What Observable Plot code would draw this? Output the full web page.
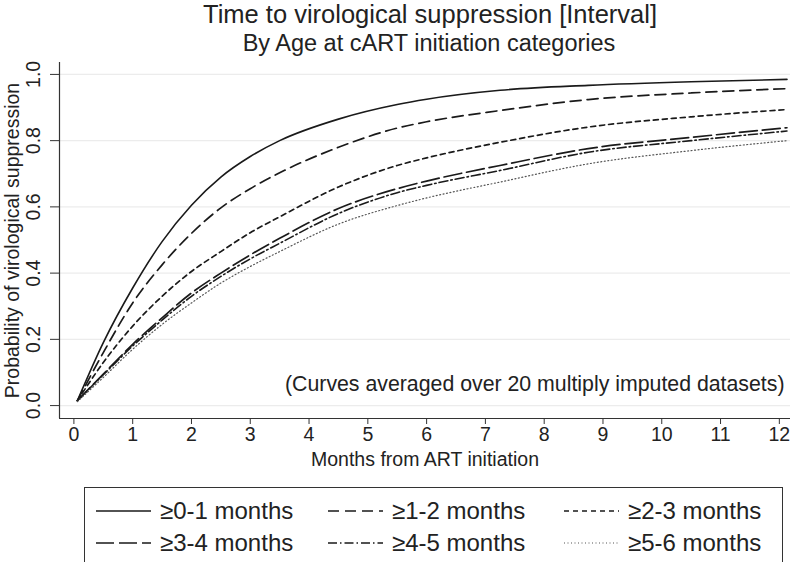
<!DOCTYPE html>
<html><head><meta charset="utf-8">
<script src="https://cdn.jsdelivr.net/npm/d3@7"></script>
<script src="https://cdn.jsdelivr.net/npm/@observablehq/plot@0.6"></script>
<style>
body{margin:0;background:#fff;font-family:"Liberation Sans",Arial,sans-serif;color:#222}
#wrap{position:relative;width:800px;height:562px;overflow:hidden;background:#fff}
#title{position:absolute;left:30px;width:800px;top:0px;text-align:center;font-size:25.5px;line-height:28px;white-space:nowrap}
#subtitle{position:absolute;left:29px;width:800px;top:30px;text-align:center;font-size:23.5px;line-height:26px;white-space:nowrap}
#chart{position:absolute;left:0;top:56px}
#legend{position:absolute;left:84px;top:487px;width:699px;height:80px;border:1px solid #333;box-sizing:border-box;
  display:grid;grid-template-columns:232px 236px auto;grid-auto-rows:32px;padding:7px 0 0 11px}
.item{display:flex;align-items:center;font-size:24px;white-space:nowrap}
.item svg{margin-right:9px}
</style></head><body>
<div id="wrap">
  <div id="title">Time to virological suppression [Interval]</div>
  <div id="subtitle">By Age at cART initiation categories</div>
  <div id="chart"></div>
  <div id="legend"></div>
</div>
<script>
const seriesNames = ["≥0-1 months","≥1-2 months","≥2-3 months","≥3-4 months","≥4-5 months","≥5-6 months"];
const months = [0.06, 0.5, 1, 1.5, 2, 2.5, 3, 3.5, 4.5, 5.5, 6, 7.25, 8.75, 10.5, 12.13];
const s01 = [0.015, 0.19, 0.355, 0.495, 0.605, 0.69, 0.752, 0.80, 0.865, 0.909, 0.925, 0.952, 0.967, 0.978, 0.985];
const s12 = [0.015, 0.16, 0.31, 0.425, 0.52, 0.597, 0.655, 0.703, 0.78, 0.838, 0.857, 0.891, 0.924, 0.944, 0.957];
const s23 = [0.015, 0.13, 0.24, 0.33, 0.405, 0.465, 0.522, 0.57, 0.66, 0.725, 0.748, 0.795, 0.841, 0.872, 0.894];
const s34 = [0.015, 0.095, 0.185, 0.265, 0.34, 0.40, 0.455, 0.505, 0.595, 0.655, 0.678, 0.725, 0.776, 0.81, 0.839];
const s45 = [0.015, 0.093, 0.18, 0.258, 0.33, 0.39, 0.443, 0.49, 0.58, 0.643, 0.665, 0.71, 0.765, 0.80, 0.829];
const s56 = [0.012, 0.085, 0.17, 0.245, 0.31, 0.37, 0.42, 0.465, 0.548, 0.604, 0.627, 0.675, 0.73, 0.77, 0.80];
const xTicks = [0,1,2,3,4,5,6,7,8,9,10,11,12];
const yTicks = [0,0.2,0.4,0.6,0.8,1.0];
const xDomain = [-0.245, 12.19];
const yDomain = [-0.039, 1.036];

const allSeries = [s01, s12, s23, s34, s45, s56];
const styles = [
  {dash: null, width: 1.6, color: "#1a1a1a"},
  {dash: "11,6", width: 1.7, color: "#1a1a1a"},
  {dash: "5,4", width: 1.7, color: "#1a1a1a"},
  {dash: "18,5", width: 1.7, color: "#1a1a1a"},
  {dash: "9,3,1.5,3", width: 1.6, color: "#1a1a1a"},
  {dash: "1,2.5", width: 1.2, color: "#555"}
];
const data = allSeries.flatMap((s, k) => months.map((m, i) => ({m, v: s[i], k: seriesNames[k]})));

const lineMarks = seriesNames.map((name, k) => Plot.line(data.filter(d => d.k === name), {
  x: "m", y: "v", stroke: styles[k].color, strokeWidth: styles[k].width,
  strokeDasharray: styles[k].dash, curve: "monotone-x"
}));

const chart = Plot.plot({
  width: 800, height: 425,
  marginTop: 6, marginBottom: 63, marginLeft: 59, marginRight: 10,
  x: {domain: xDomain, axis: null},
  y: {domain: yDomain, axis: null},
  style: {fontFamily: '"Liberation Sans", Arial, sans-serif', fontSize: "19px", color: "#222", background: "#fff", overflow: "visible"},
  marks: [
    Plot.gridY(yTicks, {stroke: "#ececec", strokeOpacity: 1, strokeWidth: 1.2}),
    Plot.ruleX([xDomain[0]], {stroke: "#333", strokeWidth: 1.2}),
    Plot.ruleY([yDomain[0]], {stroke: "#333", strokeWidth: 1.2}),
    Plot.axisX(xTicks, {tickSize: 6, tickPadding: 3, stroke: "#333", fontSize: 19.5, fill: "#222", label: null}),
    Plot.axisY(yTicks, {tickSize: 9, stroke: "#333", tickFormat: () => "", label: null}),
    Plot.text(yTicks, {y: d => d, text: d => d.toFixed(1), frameAnchor: "left", dx: -26, rotate: -90, textAnchor: "middle", fontSize: 19.5, fill: "#222"}),
    Plot.text(["Months from ART initiation"], {text: d => d, frameAnchor: "bottom", dy: 47, fontSize: 19.5, fill: "#222"}),
    Plot.text(["Probability of virological suppression"], {text: d => d, frameAnchor: "left", dx: -47, rotate: -90, textAnchor: "middle", fontSize: 19.5, fill: "#222"}),
    Plot.text(["(Curves averaged over 20 multiply imputed datasets)"], {text: d => d, frameAnchor: "bottom-right", dx: -6, dy: -28, textAnchor: "end", fontSize: 21.3, fill: "#222"}),
    ...lineMarks
  ]
});
document.getElementById("chart").appendChild(chart);

const legend = document.getElementById("legend");
seriesNames.forEach((name, k) => {
  const item = document.createElement("div");
  item.className = "item";
  const ns = "http://www.w3.org/2000/svg";
  const svg = document.createElementNS(ns, "svg");
  svg.setAttribute("width", 55); svg.setAttribute("height", 10);
  const ln = document.createElementNS(ns, "line");
  ln.setAttribute("x1", 0); ln.setAttribute("x2", 55); ln.setAttribute("y1", 5); ln.setAttribute("y2", 5);
  ln.setAttribute("stroke", styles[k].color); ln.setAttribute("stroke-width", styles[k].width);
  if (styles[k].dash) ln.setAttribute("stroke-dasharray", styles[k].dash);
  svg.appendChild(ln);
  item.appendChild(svg);
  item.appendChild(document.createTextNode(name));
  legend.appendChild(item);
});
</script>
</body></html>
